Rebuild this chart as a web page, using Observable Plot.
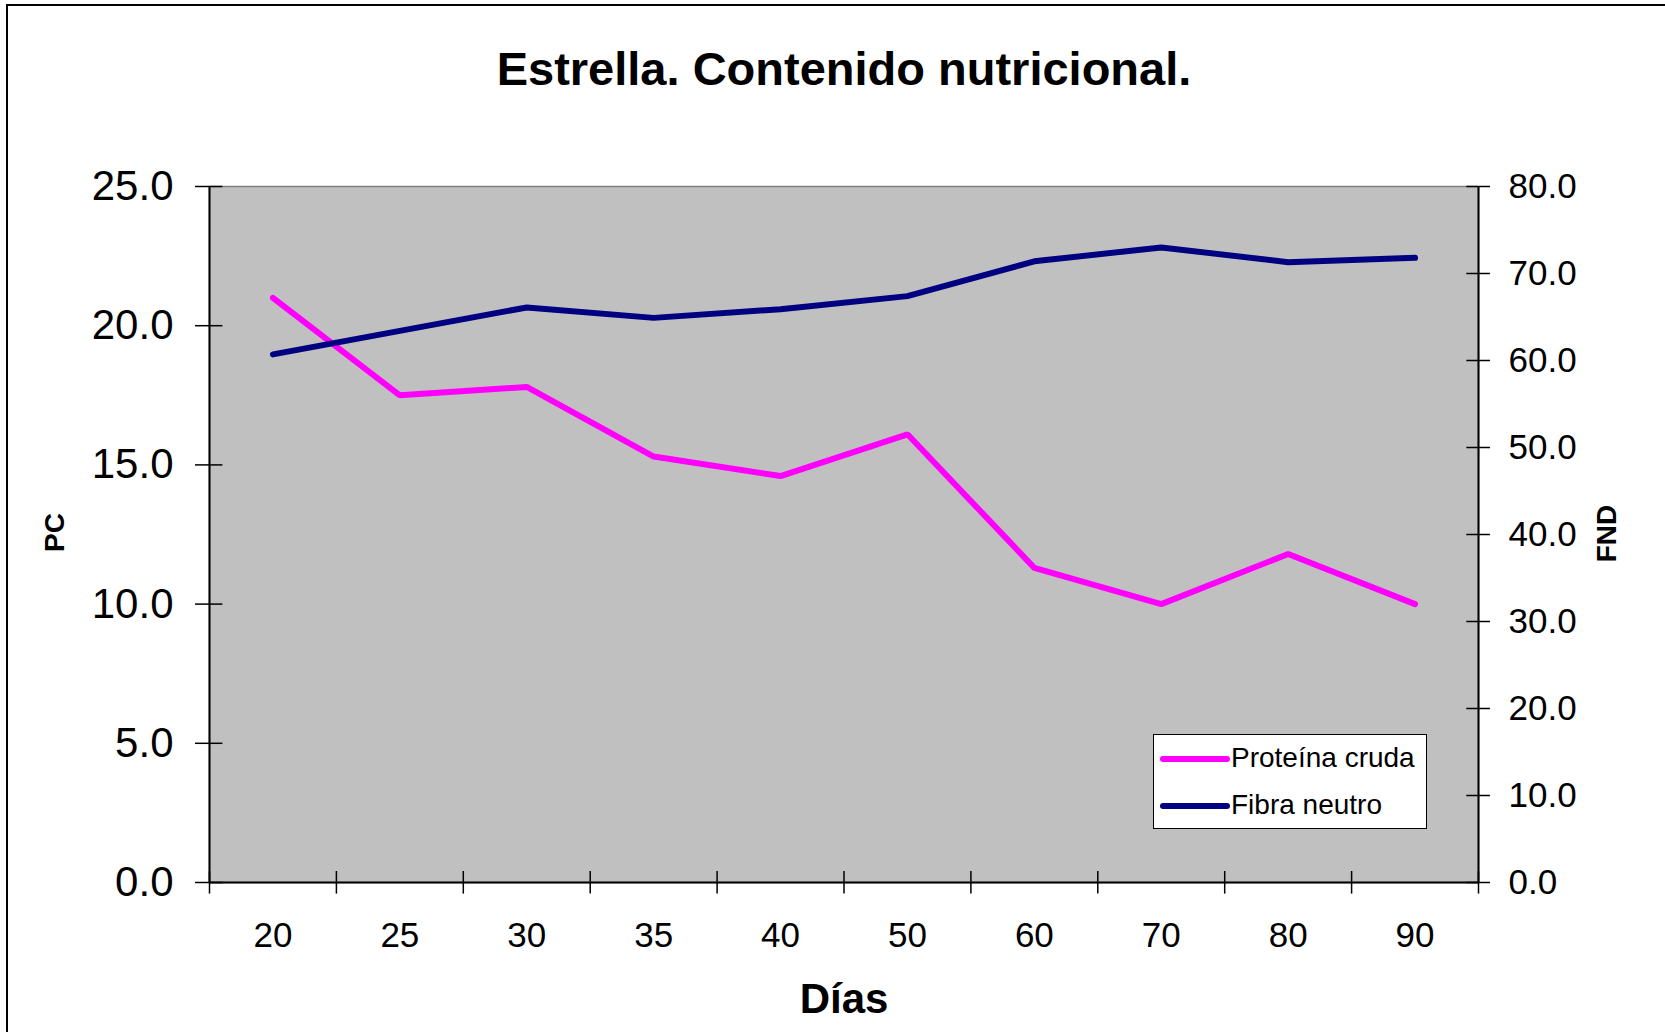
<!DOCTYPE html>
<html>
<head>
<meta charset="utf-8">
<script src="https://cdn.jsdelivr.net/npm/d3@7"></script>
<script src="https://cdn.jsdelivr.net/npm/@observablehq/plot@0.6"></script>
<style>
  html, body { margin: 0; padding: 0; background: #fff; overflow: hidden; }
  #wrap { position: relative; width: 1665px; height: 1032px; overflow: hidden; font-family: "Liberation Sans", Arial, Helvetica, sans-serif; }
  #border { position: absolute; left: 6px; top: 4px; width: 3000px; height: 3000px; border-left: 2px solid #000; border-top: 2px solid #000; pointer-events: none; }
  #legend { position: absolute; left: 1153px; top: 734px; width: 274px; height: 95px; box-sizing: border-box; border: 1.5px solid #000; background: #fff; }
</style>
</head>
<body>
<div id="wrap"></div>
<script>
// ---- data ----
const days = ["20", "25", "30", "35", "40", "50", "60", "70", "80", "90"];
const proteinaCruda = [21.0, 17.5, 17.8, 15.3, 14.6, 16.1, 11.3, 10.0, 11.8, 10.0]; // PC (left axis)
const fibraNeutro = [60.7, 63.4, 66.1, 64.9, 65.9, 67.4, 71.4, 73.0, 71.3, 71.8];   // FND (right axis)
const pcTicks = [0, 5, 10, 15, 20, 25];
const fndTicks = [0, 10, 20, 30, 40, 50, 60, 70, 80];
const seriesNames = ["Proteína cruda", "Fibra neutro"];
const seriesColors = ["#ff00ff", "#000080"];
const titleText = "Estrella. Contenido nutricional.";
const xTitle = "Días";
const yLeftTitle = "PC";
const yRightTitle = "FND";

const PC_MAX = 25, FND_MAX = 80;
const toPC = v => v * PC_MAX / FND_MAX;

const idx = days.map((d, i) => i);
const pcData = idx.map(i => ({i, v: proteinaCruda[i]}));
const fndData = idx.map(i => ({i, v: toPC(fibraNeutro[i])}));
const bounds = d3.range(0, days.length + 1).map(k => k - 0.5);

const W = 1665, H = 1032;
const font = '"Liberation Sans", Arial, Helvetica, sans-serif';

const chart = Plot.plot({
  width: W,
  height: H,
  marginLeft: 209,
  marginRight: 187,
  marginTop: 186,
  marginBottom: 150,
  style: {fontFamily: font, fontSize: "35px", color: "#000", background: "transparent", overflow: "visible"},
  x: {type: "linear", domain: [-0.5, days.length - 0.5], axis: null},
  y: {type: "linear", domain: [0, PC_MAX], axis: null},
  marks: [
    Plot.frame({fill: "#c0c0c0", stroke: "#808080", strokeWidth: 1.5}),
    // left axis
    Plot.axisY({anchor: "left", ticks: pcTicks, tickFormat: d => d.toFixed(1), tickSize: 14, tickPadding: 22, fontSize: 42, strokeWidth: 1.5, label: null}),
    Plot.ruleY(pcTicks, {y: d => d, x1: -0.5, x2: -0.5, insetLeft: 0, insetRight: -13.4, stroke: "#000", strokeWidth: 1.5}),
    // right axis
    Plot.axisY({anchor: "right", ticks: fndTicks.map(toPC), tickFormat: d => (d * FND_MAX / PC_MAX).toFixed(1), tickSize: 11, tickPadding: 19, fontSize: 35, strokeWidth: 1.5, label: null}),
    Plot.ruleY(fndTicks.map(toPC), {y: d => d, x1: days.length - 0.5, x2: days.length - 0.5, insetLeft: -11.7, insetRight: 0, stroke: "#000", strokeWidth: 1.5}),
    // x axis labels
    Plot.axisX({anchor: "bottom", ticks: idx, tickFormat: i => days[i], tickSize: 0, tickPadding: 40, fontSize: 35, label: null}),
    Plot.ruleX(bounds, {x: d => d, y1: 0, y2: 0, insetTop: -11, insetBottom: -11.6, stroke: "#000", strokeWidth: 1.5}),
    // axis lines
    Plot.ruleX([-0.5, days.length - 0.5], {stroke: "#000", strokeWidth: 2}),
    Plot.ruleY([0], {stroke: "#000", strokeWidth: 2}),
    // series
    Plot.line(pcData, {x: "i", y: "v", stroke: seriesColors[0], strokeWidth: 6, strokeLinecap: "round", strokeLinejoin: "miter"}),
    Plot.line(fndData, {x: "i", y: "v", stroke: seriesColors[1], strokeWidth: 6, strokeLinecap: "round", strokeLinejoin: "miter"}),
    // titles
    Plot.text([titleText], {text: d => d, frameAnchor: "top", lineAnchor: "middle", textAnchor: "middle", dy: -117, fontSize: 47, fontWeight: "bold", fill: "#000"}),
    Plot.text([xTitle], {text: d => d, frameAnchor: "bottom", lineAnchor: "middle", textAnchor: "middle", dy: 117, fontSize: 42, fontWeight: "bold", fill: "#000"}),
    Plot.text([yLeftTitle], {text: d => d, frameAnchor: "left", lineAnchor: "middle", textAnchor: "middle", dx: -154, dy: -2, rotate: -90, fontSize: 28, fontWeight: "bold", fill: "#000"}),
    Plot.text([yRightTitle], {text: d => d, frameAnchor: "right", lineAnchor: "middle", textAnchor: "middle", dx: 129, dy: -1, rotate: -90, fontSize: 28, fontWeight: "bold", fill: "#000"})
  ]
});

const wrap = document.getElementById("wrap");
wrap.appendChild(chart);

// legend
const legend = document.createElement("div");
legend.id = "legend";
const ns = "http://www.w3.org/2000/svg";
const lsvg = document.createElementNS(ns, "svg");
lsvg.setAttribute("width", 271);
lsvg.setAttribute("height", 92);
lsvg.style.display = "block";
seriesNames.forEach((name, k) => {
  const yy = 24 + k * 47;
  const ln = document.createElementNS(ns, "line");
  ln.setAttribute("x1", 9); ln.setAttribute("x2", 73);
  ln.setAttribute("y1", yy); ln.setAttribute("y2", yy);
  ln.setAttribute("stroke", seriesColors[k]);
  ln.setAttribute("stroke-width", 6);
  ln.setAttribute("stroke-linecap", "round");
  lsvg.appendChild(ln);
  const tx = document.createElementNS(ns, "text");
  tx.setAttribute("x", 77);
  tx.setAttribute("y", yy + 8);
  tx.setAttribute("font-size", 28);
  tx.setAttribute("font-family", font);
  tx.setAttribute("fill", "#000");
  tx.textContent = name;
  lsvg.appendChild(tx);
});
legend.appendChild(lsvg);
wrap.appendChild(legend);

const border = document.createElement("div");
border.id = "border";
wrap.appendChild(border);
</script>
</body>
</html>
